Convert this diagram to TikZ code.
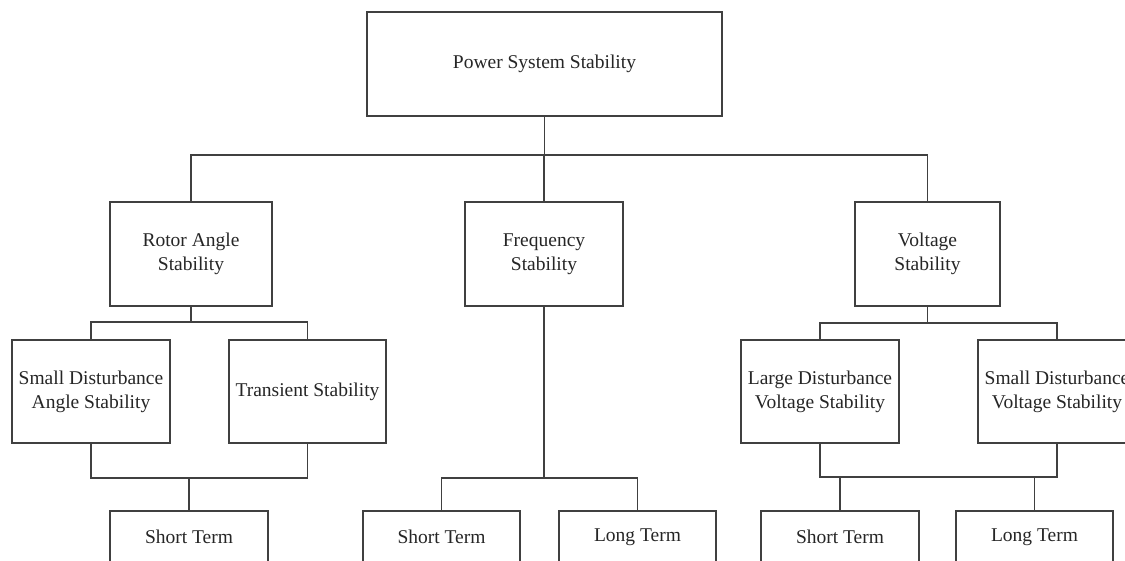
\documentclass[tikz,border=0pt]{standalone}
\usepackage{fontspec}
\setmainfont{Liberation Serif}
\tikzset{
  box/.style={draw=black!75, line width=1.2pt, fill=white, align=center, inner sep=0pt,
    text=black!85, font=\fontsize{19.5}{24}\selectfont, minimum height=103pt},
  wire/.style={draw=black!75, line width=1.2pt}
}
\begin{document}
\begin{tikzpicture}[x=1pt,y=-1pt]
\useasboundingbox (0,0) rectangle (1125,561);
\clip (0,0) rectangle (1125,561);
% level 0
\node[box, minimum width=355pt, minimum height=104pt] (top) at (544.5,64) {Power System Stability};
% level 1
\node[box, minimum width=162pt, minimum height=104pt] (rotor) at (191,254) {Rotor Angle\\Stability};
\node[box, minimum width=158pt, minimum height=104pt] (freq) at (544,254) {Frequency\\Stability};
\node[box, minimum width=145pt, minimum height=104pt] (volt) at (927.5,254) {Voltage\\Stability};
% level 2
\node[box, minimum width=158pt] (sda) at (91,391.5) {Small Disturbance\\Angle Stability};
\node[box, minimum width=157pt] (ts) at (307.5,391.5) {Transient Stability};
\node[box, minimum width=158pt] (ldv) at (820,391.5) {Large Disturbance\\Voltage Stability};
\node[box, minimum width=158pt] (sdv) at (1057,391.5) {Small Disturbance\\Voltage Stability};
% level 3
\node[box, minimum width=158pt, minimum height=52pt] (st1) at (189,537) {Short Term};
\node[box, minimum width=157pt, minimum height=52pt] (st2) at (441.5,537) {Short Term};
\node[box, minimum width=157pt, minimum height=52pt] (lt2) at (637.5,537) {Long Term};
\node[box, minimum width=158pt, minimum height=52pt] (st3) at (840,537) {Short Term};
\node[box, minimum width=157pt, minimum height=52pt] (lt3) at (1034.5,537) {Long Term};
% bus coordinates
\coordinate (b0) at (0,155);
\coordinate (br) at (0,322);
\coordinate (bv) at (0,323);
\coordinate (bra) at (0,478);
\coordinate (bf) at (0,478);
\coordinate (bvb) at (0,477);
\coordinate (st1j) at (st1.north |- bra);
% top bus
\draw[wire] (top.south) -- (top.south |- b0);
\draw[wire] (rotor.north) -- (rotor.north |- b0) -- (volt.north |- b0) -- (volt.north);
\draw[wire] (freq.north) -- (freq.north |- b0);
% rotor angle
\draw[wire] (rotor.south) -- (rotor.south |- br);
\draw[wire] (sda.north) -- (sda.north |- br) -- (ts.north |- br) -- (ts.north);
\draw[wire] (sda.south) -- (sda.south |- bra) -- (ts.south |- bra) -- (ts.south);
\draw[wire] (st1j) -- (st1.north);
% frequency
\draw[wire] (freq.south) -- (freq.south |- bf);
\draw[wire] (st2.north) -- (st2.north |- bf) -- (lt2.north |- bf) -- (lt2.north);
% voltage
\draw[wire] (volt.south) -- (volt.south |- bv);
\draw[wire] (ldv.north) -- (ldv.north |- bv) -- (sdv.north |- bv) -- (sdv.north);
\draw[wire] (ldv.south) -- (ldv.south |- bvb) -- (sdv.south |- bvb) -- (sdv.south);
\draw[wire] (st3.north) -- (st3.north |- bvb);
\draw[wire] (lt3.north) -- (lt3.north |- bvb);
\end{tikzpicture}
\end{document}
